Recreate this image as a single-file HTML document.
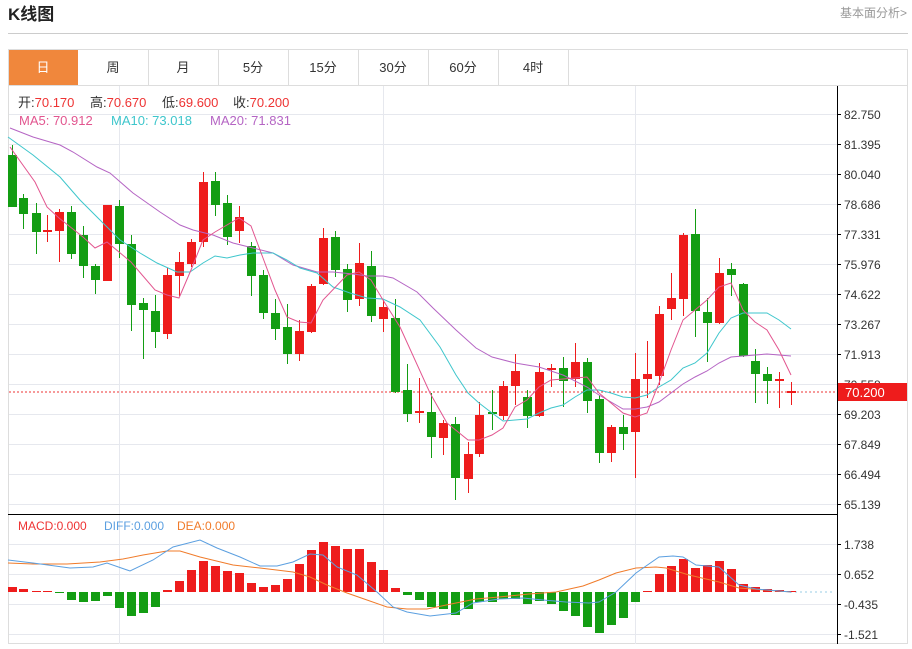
<!DOCTYPE html>
<html><head><meta charset="utf-8"><style>
body{margin:0;background:#fff;width:912px;height:644px;overflow:hidden;font-family:"Liberation Sans","Noto Sans CJK SC",sans-serif}
</style></head><body>
<svg id="s" width="912" height="644" xmlns="http://www.w3.org/2000/svg" font-family="Liberation Sans, Noto Sans CJK SC, sans-serif">
<text x="8" y="20" font-size="17" font-weight="bold" fill="#222">K线图</text>
<text x="907" y="17" font-size="12" fill="#999" text-anchor="end">基本面分析&gt;</text>
<line x1="8" y1="33.5" x2="908" y2="33.5" stroke="#ccc"/>
<rect x="8.5" y="49.5" width="899" height="594" fill="none" stroke="#ddd"/>
<line x1="8" y1="85.5" x2="908" y2="85.5" stroke="#ddd"/>
<rect x="9" y="50" width="69" height="35" fill="#f0873c"/>
<g stroke="#ddd"><line x1="148.5" y1="50" x2="148.5" y2="85"/><line x1="218.5" y1="50" x2="218.5" y2="85"/><line x1="288.5" y1="50" x2="288.5" y2="85"/><line x1="358.5" y1="50" x2="358.5" y2="85"/><line x1="428.5" y1="50" x2="428.5" y2="85"/><line x1="498.5" y1="50" x2="498.5" y2="85"/><line x1="568.5" y1="50" x2="568.5" y2="85"/></g>
<g font-size="13" fill="#333" text-anchor="middle"><text x="43" y="72" fill="#fff">日</text><text x="113" y="72">周</text><text x="183" y="72">月</text><text x="253" y="72">5分</text><text x="323" y="72">15分</text><text x="393" y="72">30分</text><text x="463" y="72">60分</text><text x="533" y="72">4时</text></g>
<g id="grid" stroke="#e6e8ee"></g>
<g stroke="#e6e8ee"><line x1="119.5" y1="86" x2="119.5" y2="644"/><line x1="383.5" y1="86" x2="383.5" y2="644"/><line x1="635.5" y1="86" x2="635.5" y2="644"/></g>
<line x1="8" y1="514.5" x2="837" y2="514.5" stroke="#000"/>
<line x1="837.5" y1="86" x2="837.5" y2="644" stroke="#000"/>
<g id="ticks" font-size="12" fill="#333"></g>
<line x1="9" y1="392" x2="837" y2="392" stroke="#e33" stroke-dasharray="2,2"/>
<line x1="790" y1="592" x2="835" y2="592" stroke="#bde" stroke-dasharray="2,3" stroke-width="1.5"/>
<rect x="838" y="383" width="69" height="18" fill="#ee1c1c"/>
<text x="845" y="397" font-size="13" fill="#fff">70.200</text>
<g id="c"></g>
<g id="m"></g>
<g fill="none" stroke-width="1">
<polyline stroke="#b565c4" points="10,128 33,137 60,145 73,152 97,167 110,173 133,193 160,212 180,225 193,230 213,235 233,243 253,248 273,253 293,265 317,272 333,272 353,274 367,276 383,276 393,278 417,292 433,308 456,330 476,348 492,357 515,363 539,367 563,375 587,387 599,395 623,409 635,409 647,407 659,402 671,393 683,384 695,377 707,371 719,363 731,357 743,356 767,354 791,356"/>
<polyline stroke="#3ec6cc" points="8,137 33,155 60,177 80,200 100,220 120,240 140,253 157,263 177,272 190,272 203,263 215,256 227,258 240,255 253,253 273,253 287,260 300,268 317,273 333,287 350,293 367,298 383,299 400,307 420,320 440,347 456,375 468,393 479,403 492,413 503,421 515,420 527,419 539,413 551,408 563,405 575,397 587,390 599,390 611,393 623,397 635,398 647,395 659,387 671,380 683,368 695,363 707,353 719,333 731,318 743,313 755,313 767,313 779,320 791,329"/>
<polyline stroke="#e2558f" points="10,147 35,182 47,207 59,218 83,237 95,248 107,242 131,262 155,290 167,295 179,298 191,270 203,240 215,232 239,218 251,226 263,258 275,290 287,317 299,322 311,323 323,300 347,275 359,272 371,280 383,300 400,327 430,393 447,423 468,440 479,440 492,435 503,428 515,407 527,400 539,387 551,380 563,379 575,378 587,377 599,393 611,403 623,413 635,417 647,413 659,383 671,350 683,320 695,310 707,300 719,287 731,283 743,310 755,322 767,330 779,350 791,375"/>
<polyline stroke="#f07b2a" points="8,563 33,564 67,564 100,562 123,559 143,555 167,551 180,551 200,557 233,565 260,568 293,572 310,577 327,585 347,593 367,600 387,607 407,609 427,609 456,603 476,599 499,597 529,594 556,592 583,586 599,580 616,573 636,568 656,567 666,568 689,575 719,582 739,588 791,592"/>
<polyline stroke="#5b9fe0" points="8,560 33,563 70,568 93,567 107,563 130,571 153,560 173,547 200,540 217,548 240,557 260,566 277,566 293,562 310,554 323,555 337,567 357,575 377,592 393,607 407,612 430,616 456,613 473,603 499,599 523,598 543,600 566,602 589,603 599,602 616,592 636,573 659,557 673,556 683,557 696,565 719,567 739,585 756,589 791,592"/>
</g>
<g font-size="13"><text x="18" y="107" fill="#333">开:<tspan fill="#e33">70.170</tspan></text><text x="90" y="107" fill="#333">高:<tspan fill="#e33">70.670</tspan></text><text x="162" y="107" fill="#333">低:<tspan fill="#e33">69.600</tspan></text><text x="233" y="107" fill="#333">收:<tspan fill="#e33">70.200</tspan></text>
<text x="19" y="125" fill="#e2558f">MA5: 70.912</text><text x="111" y="125" fill="#3ec6cc">MA10: 73.018</text><text x="210" y="125" fill="#b565c4">MA20: 71.831</text></g>
<g font-size="12"><text x="18" y="530" fill="#e33">MACD:0.000</text><text x="104" y="530" fill="#5b9fe0">DIFF:0.000</text><text x="177" y="530" fill="#f07b2a">DEA:0.000</text></g>
</svg>
<script>
var NS="http://www.w3.org/2000/svg";
function el(p,t,a){var e=document.createElementNS(NS,t);for(var k in a)e.setAttribute(k,a[k]);document.getElementById(p).appendChild(e);return e;}
var py=[114,144,174,204,234,264,294,324,354,384,414,444,474,504],pl=["82.750","81.395","80.040","78.686","77.331","75.976","74.622","73.267","71.913","70.558","69.203","67.849","66.494","65.139"];
py.forEach(function(y,i){el("grid","line",{x1:9,y1:y+.5,x2:837,y2:y+.5});el("ticks","line",{x1:837,y1:y+.5,x2:841,y2:y+.5,stroke:"#000"});var t=el("ticks","text",{x:844,y:y+5});t.textContent=pl[i];});
[[544,"1.738"],[574,"0.652"],[604,"-0.435"],[634,"-1.521"]].forEach(function(a){el("grid","line",{x1:9,y1:a[0]+.5,x2:837,y2:a[0]+.5});el("ticks","line",{x1:837,y1:a[0]+.5,x2:841,y2:a[0]+.5,stroke:"#000"});var t=el("ticks","text",{x:844,y:a[0]+5});t.textContent=a[1];});
var C=[[12,155,207,145,207,'g'],[23,198,214,194,229,'g'],[36,213,232,203,254,'g'],[47,230,232,215,242,'r'],[59,212,231,209,262,'r'],[71,212,254,206,259,'g'],[83,235,266,226,278,'g'],[95,266,280,264,294,'g'],[107,205,281,205,281,'r'],[119,206,244,200,258,'g'],[131,244,305,235,331,'g'],[143,303,310,298,359,'g'],[155,311,332,295,348,'g'],[167,275,334,268,339,'r'],[179,262,276,252,296,'r'],[191,242,264,239,267,'r'],[203,182,242,172,247,'r'],[215,181,205,172,216,'g'],[227,203,237,195,245,'g'],[239,217,231,206,243,'r'],[251,246,276,242,296,'g'],[263,275,313,270,319,'g'],[275,313,329,299,340,'g'],[287,327,354,304,364,'g'],[299,331,354,320,361,'r'],[311,286,332,284,333,'r'],[323,238,284,228,285,'r'],[335,237,270,231,277,'g'],[347,269,300,264,312,'g'],[359,263,299,243,306,'r'],[371,266,316,251,322,'g'],[383,307,319,300,332,'r'],[395,318,392,299,393,'g'],[407,390,414,364,422,'g'],[419,411,413,378,423,'r'],[431,412,437,393,458,'g'],[443,423,438,420,455,'r'],[455,424,478,417,500,'g'],[468,454,479,442,493,'r'],[479,415,454,402,457,'r'],[492,412,414,390,430,'g'],[503,386,416,381,420,'r'],[515,371,386,354,405,'r'],[527,397,416,390,428,'g'],[539,372,416,363,417,'r'],[551,368,370,364,387,'r'],[563,368,381,357,407,'g'],[575,362,379,343,387,'r'],[587,362,401,358,413,'g'],[599,399,453,395,463,'g'],[611,427,453,425,462,'r'],[623,427,434,415,450,'g'],[635,379,432,353,478,'r'],[647,374,379,341,398,'r'],[659,314,376,306,385,'r'],[671,298,309,273,320,'r'],[683,235,299,233,316,'r'],[695,234,311,209,337,'g'],[707,312,323,298,362,'g'],[719,273,323,258,324,'r'],[731,269,275,263,296,'g'],[743,284,356,283,357,'g'],[755,361,374,349,403,'g'],[767,374,381,367,404,'g'],[779,379,381,372,408,'r'],[791,391,393,382,405,'r']];
C.forEach(function(c){var col=c[5]=='r'?'#ee1c1c':'#139d13';el("c","line",{x1:c[0]+.5,y1:c[3],x2:c[0]+.5,y2:c[4],stroke:col});el("c","rect",{x:c[0]-4,y:c[1],width:9,height:Math.max(1.5,c[2]-c[1]),fill:col});});
var Z=592,M=[[12,587],[23,589],[36,591],[47,591],[59,593],[71,600],[83,602],[95,601],[107,596],[119,608],[131,616],[143,613],[155,607],[167,590],[179,581],[191,570],[203,561],[215,566],[227,571],[239,573],[251,583],[263,587],[275,585],[287,579],[299,564],[311,550],[323,542],[335,546],[347,549],[359,549],[371,562],[383,570],[395,588],[407,595],[419,600],[431,607],[443,609],[455,615],[468,609],[479,602],[492,602],[503,599],[515,599],[527,604],[539,601],[551,604],[563,611],[575,616],[587,627],[599,633],[611,625],[623,618],[635,602],[647,591],[659,574],[671,566],[683,559],[695,568],[707,565],[719,561],[731,569],[743,584],[755,587],[767,589],[779,590],[791,591]];
M.forEach(function(m){var col=m[1]<Z?'#ee1c1c':'#139d13';var y=Math.min(m[1],Z),h=Math.max(1,Math.abs(m[1]-Z));el("m","rect",{x:m[0]-4,y:y,width:9,height:h,fill:col});});
</script>
</body></html>
